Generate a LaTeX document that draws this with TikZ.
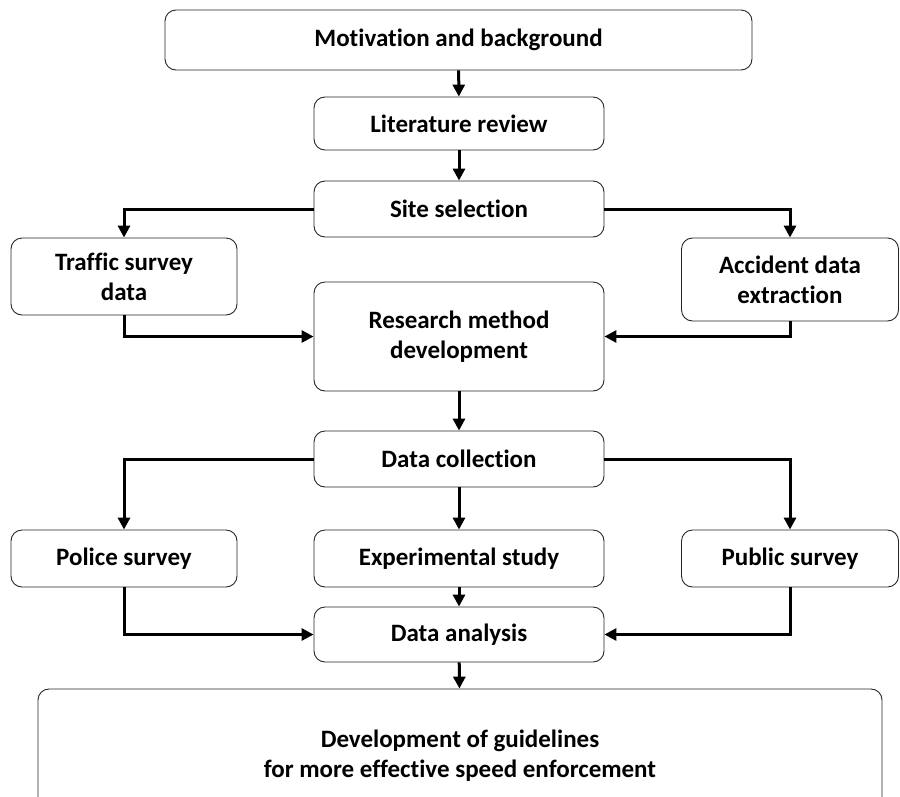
\documentclass[tikz,border=0pt]{standalone}
\usepackage{fontspec}
\setmainfont[Ligatures={NoCommon}]{Carlito}
\usetikzlibrary{arrows.meta}
\begin{document}
\begin{tikzpicture}[x=1pt,y=-1pt,
 box/.style={draw=black!85, line width=0.9pt, rounded corners=11pt, align=center, font=\fontsize{25}{30}\selectfont\bfseries, inner sep=0pt},
 conn/.style={line width=3pt, -{Triangle[length=12pt,width=12pt]}}]
\useasboundingbox (0,0) rectangle (900,796);
\node[box, minimum width=587pt, minimum height=60pt] (mot) at (458.5,40) {Motivation and background};
\node[box, minimum width=290pt, minimum height=53pt] (lit) at (459,123.5) {Literature review};
\node[box, minimum width=290pt, minimum height=56pt] (site) at (459,209) {Site selection};
\node[box, minimum width=226pt, minimum height=77pt] (traffic) at (124,276.5) {Traffic survey\\data};
\node[box, minimum width=217pt, minimum height=83pt] (acc) at (790,279.5) {Accident data\\extraction};
\node[box, minimum width=290pt, minimum height=109pt] (rm) at (459,336.5) {Research method\\development};
\node[box, minimum width=290pt, minimum height=56pt] (dc) at (459,459) {Data collection};
\node[box, minimum width=226pt, minimum height=57pt] (police) at (124,558.5) {Police survey};
\node[box, minimum width=290pt, minimum height=57pt] (exp) at (459,558.5) {Experimental study};
\node[box, minimum width=217pt, minimum height=57pt] (public) at (790,558.5) {Public survey};
\node[box, minimum width=290pt, minimum height=55pt] (da) at (459,634.5) {Data analysis};
\node[box, minimum width=844pt, minimum height=134pt] (dev) at (460,756) {Development of guidelines\\for more effective speed enforcement};
\draw[conn] (mot) -- (lit);
\draw[conn] (lit) -- (site);
\draw[conn] (site.west) -| (traffic.north);
\draw[conn] (site.east) -| (acc.north);
\draw[conn] (traffic.south) |- (rm.west);
\draw[conn] (acc.south) |- (rm.east);
\draw[conn] (rm) -- (dc);
\draw[conn] (dc.west) -| (police.north);
\draw[conn] (dc) -- (exp);
\draw[conn] (dc.east) -| (public.north);
\draw[conn] (exp) -- (da);
\draw[conn] (police.south) |- (da.west);
\draw[conn] (public.south) |- (da.east);
\draw[conn] (da) -- (dev);
\end{tikzpicture}
\end{document}
